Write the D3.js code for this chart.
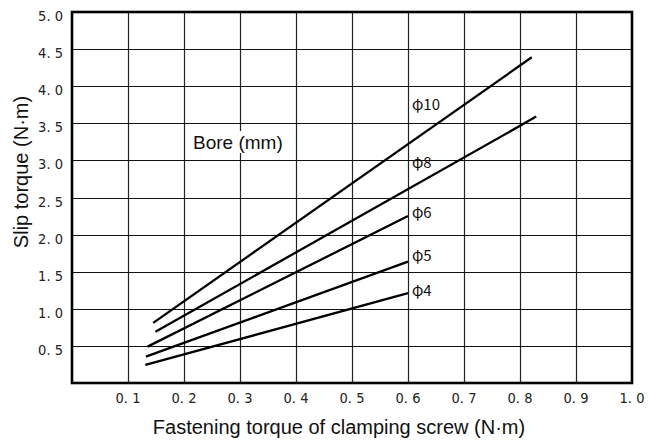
<!DOCTYPE html>
<html><head><meta charset="utf-8">
<script src="https://cdn.jsdelivr.net/npm/d3@7"></script>
<style>body{margin:0;background:#fff}</style>
</head><body>
<svg id="c" width="654" height="442"></svg>
<script>
const xTicks = [0.1,0.2,0.3,0.4,0.5,0.6,0.7,0.8,0.9,1.0];
const xTickLabels = ["0. 1","0. 2","0. 3","0. 4","0. 5","0. 6","0. 7","0. 8","0. 9","1. 0"];
const yTicks = [0.5,1.0,1.5,2.0,2.5,3.0,3.5,4.0,4.5,5.0];
const yTickLabels = ["0. 5","1. 0","1. 5","2. 0","2. 5","3. 0","3. 5","4. 0","4. 5","5. 0"];
const bores = ["φ10","φ8","φ6","φ5","φ4"];
const xStart = [0.145,0.149,0.135,0.132,0.131];
const yStart = [0.81,0.69,0.49,0.355,0.243];
const xEnd = [0.821,0.829,0.6,0.6,0.6];
const yEnd = [4.39,3.59,2.25,1.635,1.21];
const labelY = [3.75,2.97,2.30,1.72,1.25];
const legendTitle = "Bore (mm)";

const svg = d3.select("#c");
const L=72, R=632, T=12, B=383;
const x = d3.scaleLinear().domain([0,1]).range([L,R]);
const y = d3.scaleLinear().domain([0,5]).range([B,T]);
const sans = "Liberation Sans, Arial, sans-serif";
const tf = "DejaVu Sans Condensed, DejaVu Sans, sans-serif";

// grid
svg.append("g").selectAll("line").data(xTicks.slice(0,-1)).join("line")
  .attr("x1",d=>Math.round(x(d))+0.5).attr("x2",d=>Math.round(x(d))+0.5).attr("y1",T).attr("y2",B)
  .attr("stroke","#222").attr("stroke-width",1.2);
svg.append("g").selectAll("line").data(yTicks.slice(0,-1)).join("line")
  .attr("y1",d=>Math.round(y(d))+0.5).attr("y2",d=>Math.round(y(d))+0.5).attr("x1",L).attr("x2",R)
  .attr("stroke","#111").attr("stroke-width",1.2);

// legend title with white bg
const lg = svg.append("g");
lg.append("rect").attr("x",191).attr("y",131).attr("width",94).attr("height",22).attr("fill","#fff");
lg.append("text").attr("x",193).attr("y",148.5).text(legendTitle)
  .attr("font-family",sans).attr("font-size",19).attr("fill","#111");

// lines
svg.append("g").selectAll("line").data(bores).join("line")
  .attr("x1",(d,i)=>x(xStart[i])).attr("y1",(d,i)=>y(yStart[i]))
  .attr("x2",(d,i)=>x(xEnd[i])).attr("y2",(d,i)=>y(yEnd[i]))
  .attr("stroke","#000").attr("stroke-width",2.3);

// bore labels
svg.append("g").selectAll("text").data(bores).join("text")
  .attr("x",x(0.607)).attr("y",(d,i)=>y(labelY[i])+5.5)
  .text(d=>d)
  .attr("font-family","Noto Sans CJK JP, sans-serif").attr("font-size",15).attr("fill","#111");

// frame
svg.append("rect").attr("x",L).attr("y",T).attr("width",R-L).attr("height",B-T)
  .attr("fill","none").attr("stroke","#000").attr("stroke-width",2.6);

// tick labels
svg.append("g").selectAll("text").data(xTicks).join("text")
  .attr("x",d=>x(d)).attr("y",B+20).attr("text-anchor","middle")
  .text((d,i)=>xTickLabels[i]).attr("font-family",tf).attr("font-size",14.5).attr("fill","#222")
  .style("white-space","pre");
svg.append("g").selectAll("text").data(yTicks).join("text")
  .attr("x",L-9).attr("y",d=>y(d)+9).attr("text-anchor","end")
  .text((d,i)=>yTickLabels[i]).attr("font-family",tf).attr("font-size",14.5).attr("fill","#222")
  .style("white-space","pre");

// axis titles
svg.append("text").attr("x",339).attr("y",434).attr("text-anchor","middle")
  .text("Fastening torque of clamping screw (N·m)")
  .attr("font-family",sans).attr("font-size",20).attr("fill","#111");
svg.append("text").attr("transform","translate(28,172) rotate(-90)").attr("text-anchor","middle")
  .text("Slip torque (N·m)")
  .attr("font-family",sans).attr("font-size",20).attr("fill","#111");
</script>
</body></html>
